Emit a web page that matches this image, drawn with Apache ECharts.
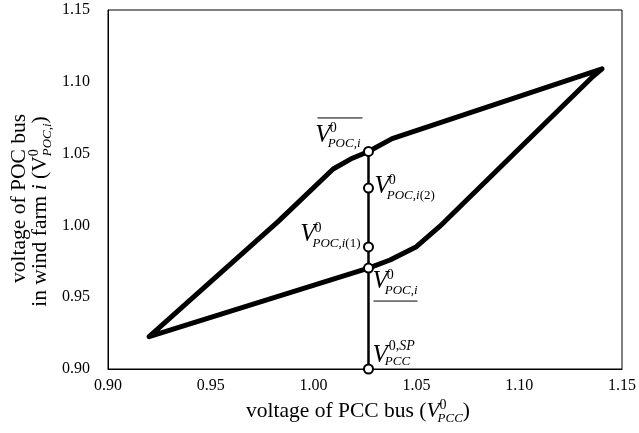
<!DOCTYPE html>
<html><head><meta charset="utf-8">
<script src="https://cdn.jsdelivr.net/npm/echarts@6/dist/echarts.min.js"></script>
<style>html,body{margin:0;padding:0;background:#fff}#c{width:639px;height:433px}</style>
</head><body><div id="c"></div>
<script>
// ---------- data ----------
const xTicks = ['0.90', '0.95', '1.00', '1.05', '1.10', '1.15'];
const yTicks = ['0.90', '0.95', '1.00', '1.05', '1.10', '1.15'];
const upperX = [0.920, 0.9827, 1.0095, 1.0180, 1.0267, 1.0382, 1.1403];
const upperY = [0.9225, 1.0026, 1.0393, 1.0462, 1.0515, 1.0604, 1.1090];
const lowerX = [0.920, 1.0267, 1.0372, 1.0500, 1.0612, 1.1357, 1.1403];
const lowerY = [0.9225, 0.9703, 0.9759, 0.9852, 0.9991, 1.1035, 1.1090];
const pccSetpoint = 1.0267;
const markerY = [0.900, 0.9703, 0.985, 1.026, 1.0515];

// ---------- helpers ----------
const FONT = '"Liberation Serif","Times New Roman",serif';
const mctx = document.createElement('canvas').getContext('2d');
function fnt(s, it) { return (it ? 'italic ' : '') + s + 'px ' + FONT; }
function tw(t, s, it) { mctx.font = fnt(s, it); return mctx.measureText(t).width; }
function T(x, base, t, s, it) {
  return { type: 'text', x: x, y: base - 0.34 * s, silent: true, z: 100,
    style: { text: t, font: fnt(s, it), fill: '#000', textAlign: 'left', textVerticalAlign: 'middle', align: 'left', verticalAlign: 'middle' } };
}
function runParts(x, base, parts, out) {
  for (const p of parts) {
    if (p.sup || p.sub) {
      let end = x;
      if (p.sup) { end = Math.max(end, runParts(x + (p.supDx || 0), base + p.supDy, p.sup, out)); }
      if (p.sub) { end = Math.max(end, runParts(x + (p.subDx || 0), base + p.subDy, p.sub, out)); }
      x = end;
    } else {
      out.push(T(x, base, p.t, p.s, p.it));
      x += tw(p.t, p.s, p.it);
    }
  }
  return x;
}
function widthOf(parts) { return runParts(0, 0, parts, []); }
function hline(x1, x2, y) {
  return { type: 'line', silent: true, z: 100, shape: { x1: x1, y1: y, x2: x2, y2: y }, style: { stroke: '#000', lineWidth: 1 } };
}

const VS = 25, SS = 14, BS = 13;
function vExpr(sup, sub) {
  return [{ t: 'V', s: VS, it: true }, { sup: sup, sub: sub, supDy: -10, subDy: 5, supDx: -1, subDx: -3 }];
}
const sup0 = [{ t: '0', s: SS }];
const subPOCi = [{ t: 'POC,i', s: BS, it: true }];

// ---------- chart ----------
const loopData = upperX.map((x, i) => [x, upperY[i]])
  .concat(lowerX.map((x, i) => [x, lowerY[i]]).reverse());
const vertData = [[pccSetpoint, markerY[0]], [pccSetpoint, markerY[markerY.length - 1]]];
const markerData = markerY.map(y => [pccSetpoint, y]);

const chart = echarts.init(document.getElementById('c'), null, { renderer: 'canvas' });
const axisCommon = {
  type: 'value', min: 0.90, max: 1.15, interval: 0.05,
  axisLine: { show: true, lineStyle: { color: '#000', width: 1 } },
  axisTick: { show: false }, splitLine: { show: false },
  axisLabel: { color: '#000', fontFamily: FONT, fontSize: 16 }
};
chart.setOption({
  animation: false,
  backgroundColor: '#fff',
  grid: { left: 108, right: 11, top: 10, bottom: 64, show: true, borderColor: '#000', borderWidth: 1 },
  xAxis: Object.assign({}, axisCommon, {
    axisLabel: Object.assign({}, axisCommon.axisLabel, { margin: 9, formatter: (v) => xTicks[Math.round((v - 0.90) / 0.05)] })
  }),
  yAxis: Object.assign({}, axisCommon, {
    axisLabel: Object.assign({}, axisCommon.axisLabel, { margin: 18, formatter: (v) => yTicks[Math.round((v - 0.90) / 0.05)] })
  }),
  series: [
    { type: 'line', data: loopData, showSymbol: false, symbol: 'none', z: 2,
      lineStyle: { color: '#000', width: 5, cap: 'round', join: 'round' } },
    { type: 'line', data: vertData, showSymbol: false, symbol: 'none', z: 3,
      lineStyle: { color: '#000', width: 2.5 } },
    { type: 'scatter', data: markerData, symbol: 'circle', symbolSize: 9, z: 5, clip: false,
      itemStyle: { color: '#fff', borderColor: '#000', borderWidth: 2, opacity: 1 } }
  ]
});

// ---------- annotations ----------
const els = [];
const P = markerY.map(y => chart.convertToPixel({ gridIndex: 0 }, [pccSetpoint, y]));
// top (overlined), right-aligned to circle
{ const [cx, cy] = P[4];
  const ex = vExpr(sup0, subPOCi);
  runParts(cx - 8 - widthOf(ex), cy - 8, ex, els);
  els.push(hline(cx - 51, cx - 6, cy - 33.5)); }
// (2)
{ const [cx, cy] = P[3];
  runParts(cx + 6, cy + 7, vExpr(sup0, [{ t: 'POC,i', s: BS, it: true }, { t: '(2)', s: BS }]), els); }
// (1), right-aligned
{ const [cx, cy] = P[2];
  const ex = vExpr(sup0, [{ t: 'POC,i', s: BS, it: true }, { t: '(1)', s: BS }]);
  runParts(cx - 8 - widthOf(ex), cy - 4, ex, els); }
// lower (underlined)
{ const [cx, cy] = P[1];
  runParts(cx + 4, cy + 22, vExpr(sup0, subPOCi), els);
  els.push(hline(cx + 5, cx + 49, cy + 33)); }
// setpoint
{ const [cx, cy] = P[0];
  runParts(cx + 4, cy - 5, [{ t: 'V', s: VS, it: true },
    { sup: [{ t: '0,', s: SS }, { t: 'SP', s: SS, it: true }], sub: [{ t: 'PCC', s: BS, it: true }], supDy: -13, subDy: 2, supDx: 1, subDx: -3 }], els); }

// x-axis title
const TS = 21.5;
const xTitle = [
  { t: 'voltage of PCC bus (', s: TS },
  { t: 'V', s: TS, it: true },
  { sup: [{ t: '0', s: 14 }], sub: [{ t: 'PCC', s: 13, it: true }], supDy: -9, subDy: 4, supDx: 0, subDx: -2 },
  { t: ')', s: TS }
];
runParts(358 - widthOf(xTitle) / 2, 419, xTitle, els);

// y-axis title (rotated)
const yKids = [];
const line1 = [{ t: 'voltage of POC bus', s: TS }];
const line2 = [
  { t: 'in wind farm ', s: TS }, { t: 'i', s: TS, it: true }, { t: ' (V', s: TS },
  { sup: [{ t: '0', s: 14 }], sub: [{ t: 'POC,i', s: 13, it: true }], supDy: -9, subDy: 4 },
  { t: ')', s: TS }
];
runParts(-widthOf(line1) / 2, 27, line1, yKids);
runParts(-13 - widthOf(line2) / 2, 48, line2, yKids);
els.push({ type: 'group', x: 0, y: 198.5, rotation: Math.PI / 2, children: yKids });

chart.setOption({ graphic: els });
</script>
</body></html>
